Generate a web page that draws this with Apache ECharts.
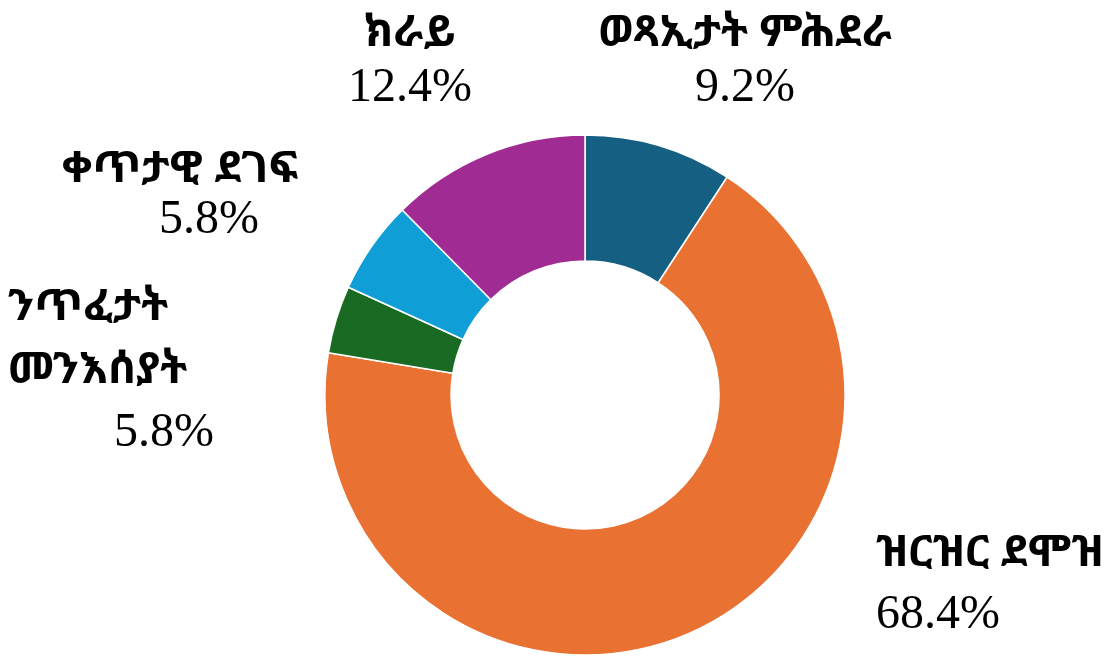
<!DOCTYPE html>
<html>
<head>
<meta charset="utf-8">
<script src="https://cdn.jsdelivr.net/npm/echarts@6/dist/echarts.min.js"></script>
<style>
  html, body { margin: 0; padding: 0; background: #fff; }
  #chart { width: 1104px; height: 656px; }
</style>
</head>
<body>
<div id="chart"></div>
<script>
// slices, clockwise from 12 o'clock
const categories = ['ወጻኢታት ምሕደራ', 'ዝርዝር ደሞዝ', 'ንጥፈታት\nመንእሰያት', 'ቀጥታዊ ደገፍ', 'ክራይ'];
const shares = [9.2, 68.4, 4.2, 5.8, 12.4];
const shownPct = ['9.2%', '68.4%', '5.8%', '5.8%', '12.4%'];
const colors = ['#156082', '#E97132', '#196B24', '#0F9ED5', '#A02B93'];

// where each label sits (x, y, align, line height, extra left pad on the % line)
const labelSpots = [
  { x: 745, y: 6, align: 'center', lh: 55, pad: 0 },
  { x: 876, y: 522, align: 'left', lh: 62, pad: 0 },
  { x: 8, y: 276, align: 'left', lh: 63, pad: 106 },
  { x: 180, y: 144, align: 'center', lh: 51, pad: 58 },
  { x: 410, y: 6, align: 'center', lh: 55, pad: 0 }
];

const nameFont = "'Noto Sans Ethiopic', 'Abyssinica SIL', 'Noto Serif Ethiopic', 'Liberation Serif', serif";
const numFont = "'Liberation Serif', 'DejaVu Serif', serif";

var dom = document.getElementById('chart');
var myChart = echarts.init(dom, null, { renderer: 'canvas' });

var pieData = shares.map(function (v, i) {
  var s = labelSpots[i];
  return {
    name: categories[i],
    value: v,
    itemStyle: { color: colors[i] },
    label: {
      formatter: categories[i].split('\n').map(function (l) { return '{n|' + l + '}'; }).join('\n') +
        '\n{p|' + shownPct[i] + '}',
      rich: {
        n: { fontFamily: nameFont, fontWeight: 'bold', fontSize: 44, lineHeight: s.lh, color: '#000' },
        p: { fontFamily: numFont, fontSize: 48, lineHeight: s.lh, color: '#000', padding: [0, 0, 0, s.pad] }
      }
    }
  };
});

var option = {
  animation: false,
  series: [
    {
      type: 'pie',
      center: [585, 395],
      radius: [134, 260],
      startAngle: 90,
      clockwise: true,
      avoidLabelOverlap: false,
      itemStyle: { borderColor: '#ffffff', borderWidth: 1.5 },
      label: { show: true, position: 'outside' },
      labelLine: { show: false },
      labelLayout: function (params) {
        var s = labelSpots[params.dataIndex];
        return { x: s.x, y: s.y, align: s.align, verticalAlign: 'top' };
      },
      data: pieData
    }
  ]
};

myChart.setOption(option);
window.addEventListener('resize', myChart.resize);
</script>
</body>
</html>
